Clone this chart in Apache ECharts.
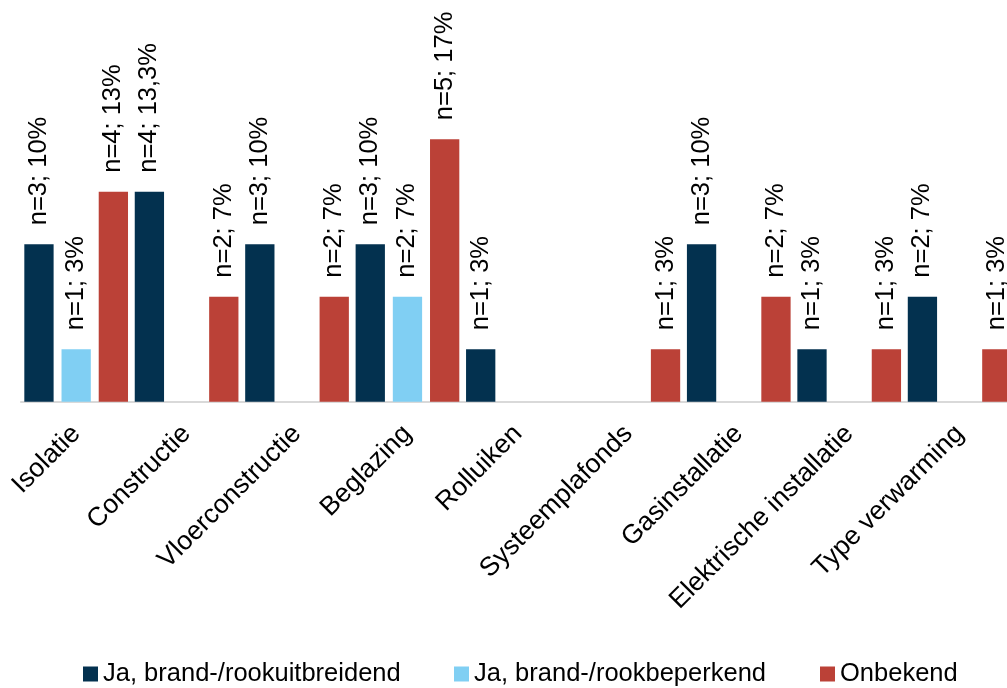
<!DOCTYPE html>
<html>
<head>
<meta charset="utf-8">
<script src="https://cdn.jsdelivr.net/npm/echarts@6/dist/echarts.min.js"></script>
<style>
html,body{margin:0;padding:0;background:#fff;}
#chart{width:1007px;height:688px;}
</style>
</head>
<body>
<div id="chart"></div>
<script>
const categories = ["Isolatie","Constructie","Vloerconstructie","Beglazing","Rolluiken","Systeemplafonds","Gasinstallatie","Elektrische installatie","Type verwarming"];
const seriesNames = ["Ja, brand-/rookuitbreidend","Ja, brand-/rookbeperkend","Onbekend"];
const uitbreidend = [10, 13.33, 10, 10, 3.33, null, 10, 3.33, 6.67];
const uitbreidendLabels = ["n=3; 10%","n=4; 13,3%","n=3; 10%","n=3; 10%","n=1; 3%","","n=3; 10%","n=1; 3%","n=2; 7%"];
const beperkend = [3.33, null, null, 6.67, null, null, null, null, null];
const beperkendLabels = ["n=1; 3%","","","n=2; 7%","","","","",""];
const onbekend = [13.33, 6.67, 6.67, 16.67, null, 3.33, 6.67, 3.33, 3.33];
const onbekendLabels = ["n=4; 13%","n=2; 7%","n=2; 7%","n=5; 17%","","n=1; 3%","n=2; 7%","n=1; 3%","n=1; 3%"];
const colors = ["#03314f","#80cff3","#bb4137"];

const FONT = '"Liberation Sans", Arial, sans-serif';
const FS = 25.5;

function mkSeries(name, values, labels, color) {
  return {
    name: name,
    type: 'bar',
    data: values,
    barGap: '27%',
    barCategoryGap: '6.1%',
    itemStyle: { color: color },
    label: {
      show: true,
      position: 'top',
      rotate: 90,
      align: 'left',
      verticalAlign: 'middle',
      distance: 16,
      offset: [3, 0],
      fontSize: FS,
      fontFamily: FONT,
      color: '#000',
      formatter: function (p) { return labels[p.dataIndex]; }
    }
  };
}

const chart = echarts.init(document.getElementById('chart'));
const legendBase = {
  top: 656,
  icon: 'rect',
  itemWidth: 15,
  itemHeight: 15,
  itemGap: 5,
  textStyle: { fontSize: FS, fontFamily: FONT, color: '#000' }
};
chart.setOption({
  animation: false,
  color: colors,
  grid: { left: 20.95, width: 993.9, top: 86.7, bottom: 286.3, containLabel: false, outerBoundsMode: 'none' },
  xAxis: {
    type: 'category',
    data: categories,
    axisLine: { show: true, lineStyle: { color: '#d9d9d9', width: 2 } },
    axisTick: { show: false },
    axisLabel: {
      interval: 0,
      rotate: 45,
      margin: 28,
      padding: [20, 0, 0, 0],
      fontSize: 26.5,
      fontFamily: FONT,
      color: '#000'
    }
  },
  yAxis: {
    type: 'value',
    min: 0,
    max: 20,
    show: false,
    splitLine: { show: false }
  },
  legend: [
    Object.assign({}, legendBase, { left: 78, data: [seriesNames[0]] }),
    Object.assign({}, legendBase, { left: 449, data: [seriesNames[1]] }),
    Object.assign({}, legendBase, { left: 815, data: [seriesNames[2]] })
  ],
  series: [
    mkSeries(seriesNames[0], uitbreidend, uitbreidendLabels, colors[0]),
    mkSeries(seriesNames[1], beperkend, beperkendLabels, colors[1]),
    mkSeries(seriesNames[2], onbekend, onbekendLabels, colors[2])
  ]
});
</script>
</body>
</html>
